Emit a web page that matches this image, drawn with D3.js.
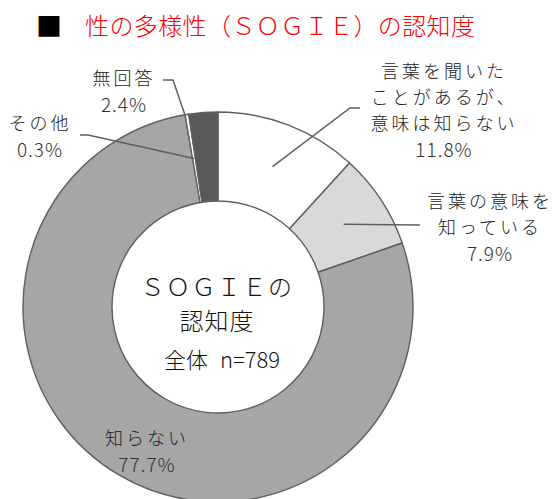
<!DOCTYPE html>
<html lang="ja">
<head>
<meta charset="utf-8">
<script src="https://cdn.jsdelivr.net/npm/d3@7"></script>
<style>
  html, body { margin: 0; padding: 0; background: #ffffff; }
  svg { display: block; }
  text { font-family: "Noto Sans CJK JP", "Noto Sans", sans-serif; font-weight: 300; }
</style>
</head>
<body>
<svg id="chart" width="558" height="499"></svg>
<script>
// Survey answers: awareness of SOGIE (whole sample, n = 789)
const categories = [
  "言葉を聞いたことがあるが、意味は知らない",
  "言葉の意味を知っている",
  "知らない",
  "その他",
  "無回答"
];
const values = [11.8, 7.9, 77.7, 0.3, 2.4];
const labelLines = [
  ["言葉を聞いた", "ことがあるが、", "意味は知らない"],
  ["言葉の意味を", "知っている"],
  ["知らない"],
  ["その他"],
  ["無回答"]
];
const fills = ["#ffffff", "#d9d9d9", "#a6a6a6", "#ffffff", "#595959"];
const titleText = "性の多様性（ＳＯＧＩＥ）の認知度";
const centerLines = ["ＳＯＧＩＥの", "認知度"];
const totalLabel = "全体";
const sampleLabel = "n=789";

const svg = d3.select("#chart");
const cx = 218, cy = 307;
const outerR = 195, innerR = 106;

// Title
svg.append("text")
  .attr("x", 36).attr("y", 24)
  .attr("dominant-baseline", "central")
  .attr("font-size", 26)
  .attr("fill", "#000")
  .text("■");
svg.append("text")
  .attr("x", 85).attr("y", 24)
  .attr("dominant-baseline", "central")
  .attr("font-size", 24)
  .attr("letter-spacing", 0.4)
  .attr("fill", "#ff0000")
  .text(titleText);

// Donut
const data = categories.map((c, i) => ({ name: c, value: values[i], lines: labelLines[i], fill: fills[i] }));
const pie = d3.pie().sort(null).value(d => d.value);
const arcs = pie(data);
const arc = d3.arc().innerRadius(innerR).outerRadius(outerR);

const g = svg.append("g").attr("transform", `translate(${cx},${cy})`);
g.selectAll("path.slice")
  .data(arcs)
  .join("path")
  .attr("class", "slice")
  .attr("d", arc)
  .attr("fill", d => d.data.fill)
  .attr("stroke", "#5f5f5f")
  .attr("stroke-width", 1.4)
  .attr("stroke-linejoin", "round");

// Point on the ring at a given angle / radius (relative to centre)
const polar = (a, r) => [Math.sin(a) * r, -Math.cos(a) * r];

// Label placement (text anchor point, leader start and elbow, in page coords)
const layout = [
  { x: 444, y: 70, line: [[360, 108], [350, 108]], end: a => arc.centroid(a) },
  { x: 490, y: 200, line: [[420, 225]], end: a => arc.centroid(a) },
  { x: 147, y: 437, line: null },
  { x: 40, y: 122, line: [[80, 135], [88, 135]], end: a => arc.centroid(a) },
  { x: 124, y: 77, line: [[163, 80], [173, 80]], end: a => polar(a.startAngle - 0.02, outerR) }
];

const fmt = d => d3.format(".1f")(d) + "%";
const lineGap = 26;

arcs.forEach((a, i) => {
  const L = layout[i];
  if (L.line) {
    const e = L.end(a);
    const pts = L.line.concat([[cx + e[0], cy + e[1]]]);
    svg.append("path")
      .attr("d", d3.line()(pts))
      .attr("fill", "none")
      .attr("stroke", "#5f5f5f")
      .attr("stroke-width", 1.5);
  }
  const t = svg.append("g").attr("class", "label");
  a.data.lines.forEach((s, k) => {
    t.append("text")
      .attr("x", L.x).attr("y", L.y + k * lineGap)
      .attr("text-anchor", "middle")
      .attr("dominant-baseline", "central")
      .attr("font-size", 18)
      .attr("letter-spacing", 3)
      .attr("fill", "#222")
      .text(s);
  });
  t.append("text")
    .attr("x", L.x).attr("y", L.y + a.data.lines.length * lineGap)
    .attr("text-anchor", "middle")
    .attr("dominant-baseline", "central")
    .attr("font-family", "'Liberation Sans Narrow', 'DejaVu Sans Condensed', sans-serif")
    .attr("font-weight", 400)
    .attr("font-size", 19)
    .attr("letter-spacing", 1)
    .attr("fill", "#333")
    .text(fmt(a.data.value));
});

// Centre caption
const cyLines = [285, 319];
centerLines.forEach((s, k) => {
  svg.append("text")
    .attr("x", 217).attr("y", cyLines[k])
    .attr("text-anchor", "middle")
    .attr("dominant-baseline", "central")
    .attr("font-size", 24)
    .attr("letter-spacing", k === 0 ? 1.5 : 1)
    .attr("fill", "#111")
    .text(s);
});
const totalText = svg.append("text")
  .attr("x", 222).attr("y", 358)
  .attr("text-anchor", "middle")
  .attr("dominant-baseline", "central")
  .attr("font-size", 22)
  .attr("fill", "#111");
totalText.append("tspan").text(totalLabel);
totalText.append("tspan").attr("dx", 12).text(sampleLabel);
</script>
</body>
</html>
